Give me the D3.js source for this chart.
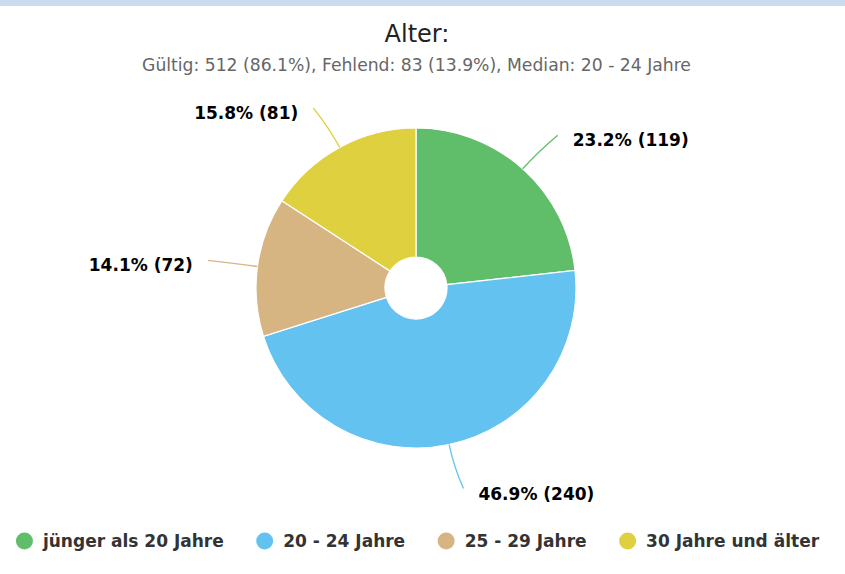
<!DOCTYPE html>
<html>
<head>
<meta charset="utf-8">
<script src="https://cdn.jsdelivr.net/npm/d3@7"></script>
<style>
  body { margin: 0; background: #fff; }
  svg { display: block; font-family: "DejaVu Sans", sans-serif; }
</style>
</head>
<body>
<svg id="chart" width="845" height="574"></svg>
<script>
// Data
const categories = ["jünger als 20 Jahre", "20 - 24 Jahre", "25 - 29 Jahre", "30 Jahre und älter"];
const counts = [119, 240, 72, 81];
const percents = [23.2, 46.9, 14.1, 15.8];
const colors = ["#60bd6a", "#64c2f1", "#d7b583", "#ded03e"];

const titleText = "Alter:";
const subtitleText = "Gültig: 512 (86.1%), Fehlend: 83 (13.9%), Median: 20 - 24 Jahre";

const width = 845, height = 574;
const cx = 416, cy = 288;
const radius = 160, innerRadius = 31;

const svg = d3.select("#chart");

// top band
svg.append("rect").attr("x", 0).attr("y", 0).attr("width", width).attr("height", 6)
    .attr("fill", "#c9dcef");

// title + subtitle
svg.append("text").attr("x", 417).attr("y", 42).attr("text-anchor", "middle")
    .attr("font-size", 24).attr("fill", "#222").text(titleText);
svg.append("text").attr("x", 416.5).attr("y", 71).attr("text-anchor", "middle")
    .attr("font-size", 17.2).attr("fill", "#666").text(subtitleText);

// pie
const data = counts.map((c, i) => ({ label: categories[i], count: c, pct: percents[i], color: colors[i] }));
const pie = d3.pie().sort(null).value(d => d.count);
const arcs = pie(data);

const arc = d3.arc().innerRadius(innerRadius).outerRadius(radius);
const edgeArc = d3.arc().innerRadius(radius).outerRadius(radius);
const bendArc = d3.arc().innerRadius(radius + 22).outerRadius(radius + 22);
const labelArc = d3.arc().innerRadius(radius + 45).outerRadius(radius + 45);

const g = svg.append("g").attr("transform", `translate(${cx},${cy})`);

g.selectAll("path.slice").data(arcs).enter().append("path")
    .attr("class", "slice")
    .attr("d", arc)
    .attr("fill", d => d.data.color)
    .attr("stroke", "#fff")
    .attr("stroke-width", 1.2);

// connectors + labels
arcs.forEach(d => {
    const mid = (d.startAngle + d.endAngle) / 2;
    const side = Math.sin(mid) >= 0 ? 1 : -1;
    const p0 = edgeArc.centroid(d);
    const p1 = bendArc.centroid(d);
    const p2 = labelArc.centroid(d);
    p2[0] += side * 5;

    g.append("path")
        .attr("d", `M${p0[0]},${p0[1]} Q${p1[0]},${p1[1]} ${p2[0]},${p2[1]}`)
        .attr("fill", "none")
        .attr("stroke", d.data.color)
        .attr("stroke-width", 1.3);

    g.append("text")
        .attr("x", p2[0] + side * 15)
        .attr("y", p2[1] + 5)
        .attr("dominant-baseline", "central")
        .attr("text-anchor", side > 0 ? "start" : "end")
        .attr("font-size", 17)
        .attr("font-weight", "bold")
        .attr("fill", "#000")
        .text(`${d.data.pct.toFixed(1)}% (${d.data.count})`);
});

// legend
const legend = svg.append("g");
const items = legend.selectAll("g").data(data).enter().append("g");
items.append("circle").attr("r", 8.5).attr("cx", 0).attr("cy", 0).attr("fill", d => d.color);
items.append("text").attr("x", 18.5).attr("y", 0).attr("dominant-baseline", "central")
    .attr("font-size", 17).attr("font-weight", "bold").attr("fill", "#333")
    .text(d => d.label);

let x = 0;
items.each(function () {
    const it = d3.select(this);
    it.attr("transform", `translate(${x},0)`);
    x += 18.5 + it.select("text").node().getComputedTextLength() + 41;
});
const totalW = x - 41 + 8.5;
legend.attr("transform", `translate(${417.5 - totalW / 2 + 8.5},541)`);
</script>
</body>
</html>
